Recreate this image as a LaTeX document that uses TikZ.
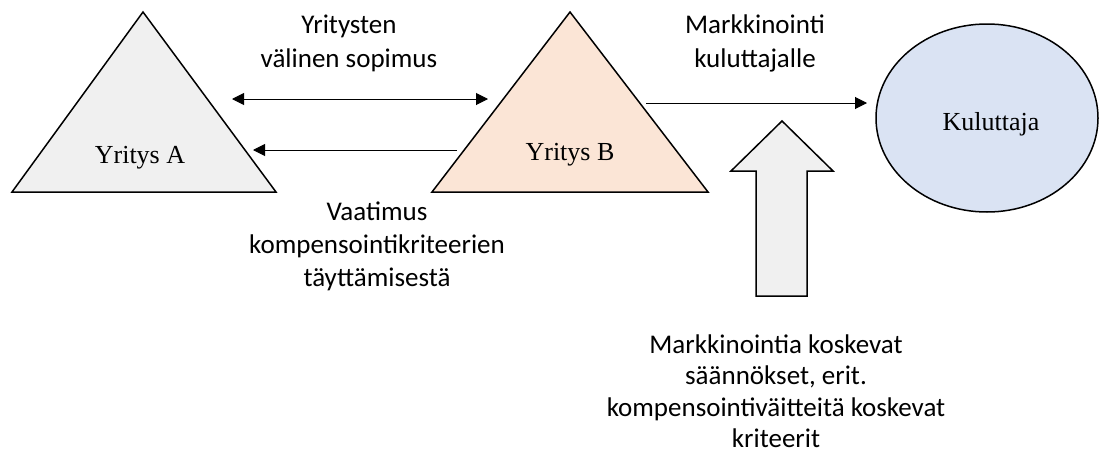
\documentclass[tikz,border=0pt]{standalone}
\usepackage{fontspec}
\setmainfont{Liberation Serif}
\newfontfamily\lblfont{Carlito}
\usetikzlibrary{arrows.meta}
\definecolor{grayfill}{HTML}{F0F0F0}
\definecolor{peachfill}{HTML}{FBE5D6}
\definecolor{bluefill}{HTML}{DAE3F3}
\begin{document}
\begin{tikzpicture}[x=1pt,y=-1pt,
  shapeline/.style={draw=black, line width=1.5pt, line join=miter},
  conn/.style={draw=black, line width=1pt, -{Triangle[length=12pt,width=12pt]}},
  lbl/.style={font=\lblfont\fontsize{27}{34}\selectfont, inner sep=0pt, anchor=base},
  ttl/.style={font=\fontsize{26}{30}\selectfont, inner sep=0pt, anchor=base}]
\useasboundingbox (0,0) rectangle (1100,455);
% shapes
\path[shapeline, fill=grayfill] (143,12) -- (276,192) -- (12,192) -- cycle;
\path[shapeline, fill=peachfill] (570,12) -- (708,192) -- (432,192) -- cycle;
\path[shapeline, fill=bluefill] (987,118) ellipse [x radius=111, y radius=94];
\path[shapeline, fill=grayfill] (782,121) -- (833,171) -- (807,171) -- (807,296)
  -- (756,296) -- (756,171) -- (731,171) -- cycle;
% node texts
\node[ttl] (A) at (140,163) {Yritys A};
\node[ttl] (B) at (570,160) {Yritys B};
\node[ttl] (K) at (991,130) {Kuluttaja};
% connector end points
\coordinate (s1) at (232,99);
\coordinate (e1) at (488,99);
\coordinate (s2) at (457,150);
\coordinate (e2) at (253,150);
\coordinate (s3) at (646,103);
\coordinate (e3) at (867,103);
\draw[conn, {Triangle[length=12pt,width=12pt]}-{Triangle[length=12pt,width=12pt]}] (s1) -- (e1);
\draw[conn] (s2) -- (e2);
\draw[conn] (s3) -- (e3);
% labels
\node[lbl] (l1) at (349,33) {\begin{tabular}[t]{@{}c@{}}Yritysten\\välinen sopimus\end{tabular}};
\node[lbl] (l2) at (755,33) {\begin{tabular}[t]{@{}c@{}}Markkinointi\\kuluttajalle\end{tabular}};
\node[lbl, font=\lblfont\fontsize{27}{33}\selectfont] (l3) at (377,220) {\begin{tabular}[t]{@{}c@{}}Vaatimus\\kompensointikriteerien\\täyttämisestä\end{tabular}};
\node[lbl, font=\lblfont\fontsize{27}{31.5}\selectfont] (l4) at (776,353) {\begin{tabular}[t]{@{}c@{}}Markkinointia koskevat\\säännökset, erit.\\kompensointiväitteitä koskevat\\kriteerit\end{tabular}};
\end{tikzpicture}
\end{document}
